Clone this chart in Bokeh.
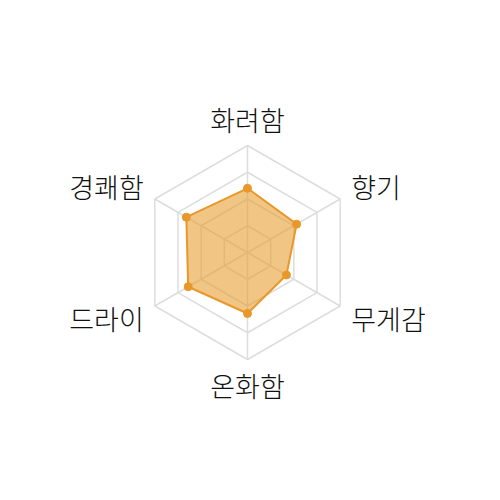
import numpy as np
from bokeh.plotting import figure
from bokeh.models import Range1d, ColumnDataSource
from bokeh.core.properties import value
from bokeh.embed import file_html
from bokeh.resources import INLINE

# radar data (0-100 scale)
categories = ["화려함", "향기", "무게감", "온화함", "드라이", "경쾌함"]
values = [60, 53, 42, 57, 64, 66]
max_value = 100
grid_levels = [25, 50, 75, 100]


def main():
    px = 1.07  # pixels per value unit
    cx, cy = 247, 252  # centre of the radar inside the figure, in pixels
    p = figure(width=484, height=484, output_backend="svg", toolbar_location=None,
               x_range=Range1d(-cx / px, (484 - cx) / px),
               y_range=Range1d(-(484 - cy) / px, cy / px),
               min_border=0, outline_line_color=None)
    p.axis.visible = False
    p.grid.visible = False

    n = len(categories)
    angles = np.pi / 2 - np.arange(n) * 2 * np.pi / n
    cos_a, sin_a = np.cos(angles), np.sin(angles)

    # hexagon rings
    for lvl in grid_levels:
        xs = list(lvl * cos_a) + [lvl * cos_a[0]]
        ys = list(lvl * sin_a) + [lvl * sin_a[0]]
        p.line(xs, ys, line_color="#dddddd", line_width=1.5)

    # spokes
    p.segment(x0=[0] * n, y0=[0] * n, x1=max_value * cos_a, y1=max_value * sin_a,
              line_color="#dddddd", line_width=1.5)

    # data polygon
    v = np.array(values, dtype=float)
    src = ColumnDataSource(data=dict(x=v * cos_a, y=v * sin_a))
    p.patch(x="x", y="y", source=src, fill_color="#e8a033", fill_alpha=0.6,
            line_color="#e8982a", line_width=2)
    p.scatter(x="x", y="y", source=src, size=8, fill_color="#e8982a", line_color="#e8982a")

    # labels
    aligns = []
    for c in cos_a:
        if c > 0.1:
            aligns.append("left")
        elif c < -0.1:
            aligns.append("right")
        else:
            aligns.append("center")
    lab = ColumnDataSource(data=dict(x=max_value * 1.12 * cos_a, y=max_value * 1.24 * sin_a,
                                     text=categories, align=aligns))
    p.text(x="x", y="y", text="text", source=lab, text_align="align", text_baseline="middle",
           text_font=value("'Noto Sans CJK KR Light', 'Noto Sans CJK KR'"),
           text_font_size="27px", text_color="#111111")

    open("out.html", "w").write(file_html(p, INLINE))


if __name__ == "__main__":
    main()
